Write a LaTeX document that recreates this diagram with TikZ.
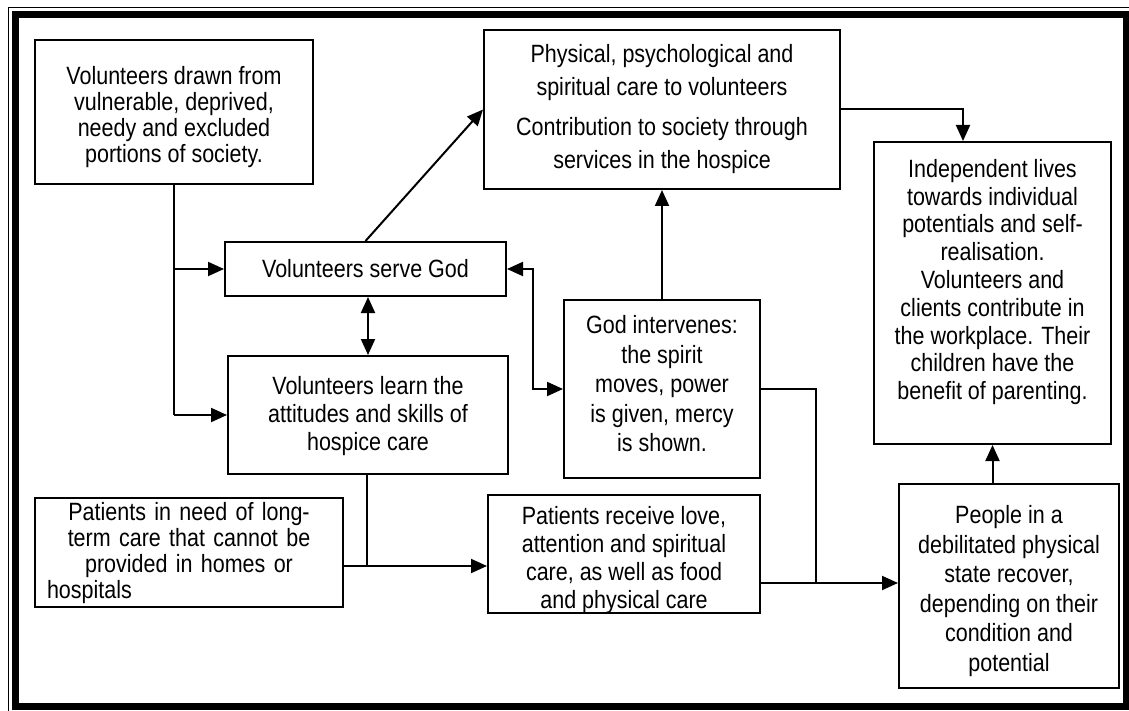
\documentclass[tikz,border=0pt]{standalone}
\usepackage{fontspec}
\setmainfont[FakeStretch=0.86]{Liberation Sans}
\usetikzlibrary{arrows.meta}
\begin{document}
\begin{tikzpicture}[x=1pt,y=-1pt,
  box/.style={draw, line width=2pt, inner sep=0pt, anchor=north west},
  txt/.style={inner sep=0pt, align=center, font=\fontsize{25}{27}\selectfont},
  arr/.style={line width=2pt, -{Triangle[length=16pt,width=14pt]}},
  darr/.style={line width=2pt, {Triangle[length=16pt,width=14pt]}-{Triangle[length=16pt,width=14pt]}},
  ln/.style={line width=2pt}]
\useasboundingbox (0,0) rectangle (1129,711);
\clip (0,0) rectangle (1129,711);
\draw[line width=1.5pt] (8.5,7.5) rectangle (1134,716);
\draw[line width=7pt] (15.5,15) rectangle (1126,706.5);

\node[box, minimum width=278pt, minimum height=144pt] (A) at (34,39) {};
\node[txt, font=\fontsize{25}{25.8}\selectfont] (At) at ([yshift=-5pt]A.center)
  {Volunteers drawn from\\ vulnerable, deprived,\\ needy and excluded\\ portions of society.};
\node[box, minimum width=356pt, minimum height=159pt] (D) at (483,29) {};
\node[txt, font=\fontsize{25}{33}\selectfont] (Dt) at (D.center)
  {Physical, psychological and\\ spiritual care to volunteers\\[7pt] Contribution to society through\\ services in the hospice};
\node[box, minimum width=281pt, minimum height=54pt] (B) at (224,241) {};
\node[txt] (Bt) at (B.center) {Volunteers serve God};
\node[box, minimum width=280pt, minimum height=118pt] (C) at (227,355) {};
\node[txt, font=\fontsize{25}{28}\selectfont] (Ct) at ([yshift=-1pt]C.center)
  {Volunteers learn the\\ attitudes and skills of\\ hospice care};
\node[box, minimum width=196pt, minimum height=178pt] (F) at (563,299) {};
\node[txt, font=\fontsize{25}{29.5}\selectfont] (Ft) at ([yshift=5pt]F.center)
  {God intervenes:\\ the spirit\\ moves, power\\ is given, mercy\\ is shown.};
\node[box, minimum width=237pt, minimum height=302pt] (E) at (873,141) {};
\node[txt, font=\fontsize{25}{27.8}\selectfont] (Et) at ([yshift=11pt]E.center)
  {Independent lives\\ towards individual\\ potentials and self-\\ realisation.\\ Volunteers and\\ clients contribute in\\ the workplace. Their\\ children have the\\ benefit of parenting.};
\node[box, minimum width=308pt, minimum height=109pt] (I) at (34,497) {};
\node[txt, text width=284pt, font=\fontsize{25}{26}\selectfont] (It) at ([yshift=-1pt]I.center)
  {Patients in need of long-\\ term care that cannot be\\ provided in homes or\\ \hbox to \linewidth{hospitals\hfil}};
\node[box, minimum width=272pt, minimum height=118pt] (H) at (487,494) {};
\node[txt, font=\fontsize{25}{28}\selectfont] (Ht) at ([yshift=-6pt]H.center)
  {Patients receive love,\\ attention and spiritual\\ care, as well as food\\ and physical care};
\node[box, minimum width=220pt, minimum height=204pt] (G) at (898,483) {};
\node[txt, font=\fontsize{25}{29.5}\selectfont] (Gt) at ([yshift=-5pt]G.center)
  {People in a\\ debilitated physical\\ state recover,\\ depending on their\\ condition and\\ potential};

\coordinate (jA) at (174,413);
\coordinate (jBF) at (533,330);
\coordinate (jDE) at (963,110);
\coordinate (jFG) at (816,583);
\coordinate (jCH) at (367,566);

\draw[ln] (A.south -| jA) -- (jA |- C.west);
\draw[arr] (jA |- B.west) -- (B.west);
\draw[arr] (jA |- C.west) -- (C.west);
\draw[arr] (B.north) -- (D.west);
\draw[darr] (C.north) -- (B.south -| C.north);
\draw[darr] (B.east) -| (jBF) |- (F.west);
\draw[arr] (F.north) -- (D.south -| F.north);
\draw[arr] (D.east) -| (jDE) -- (E.north -| jDE);
\draw[arr] (G.north -| E.south) -- (E.south);
\draw[ln] (F.east) -| (jFG);
\draw[arr] (H.east |- jFG) -- (G.west |- jFG);
\draw[ln] (C.south -| jCH) -- (jCH);
\draw[arr] (I.east |- jCH) -- (H.west |- jCH);
\end{tikzpicture}
\end{document}
